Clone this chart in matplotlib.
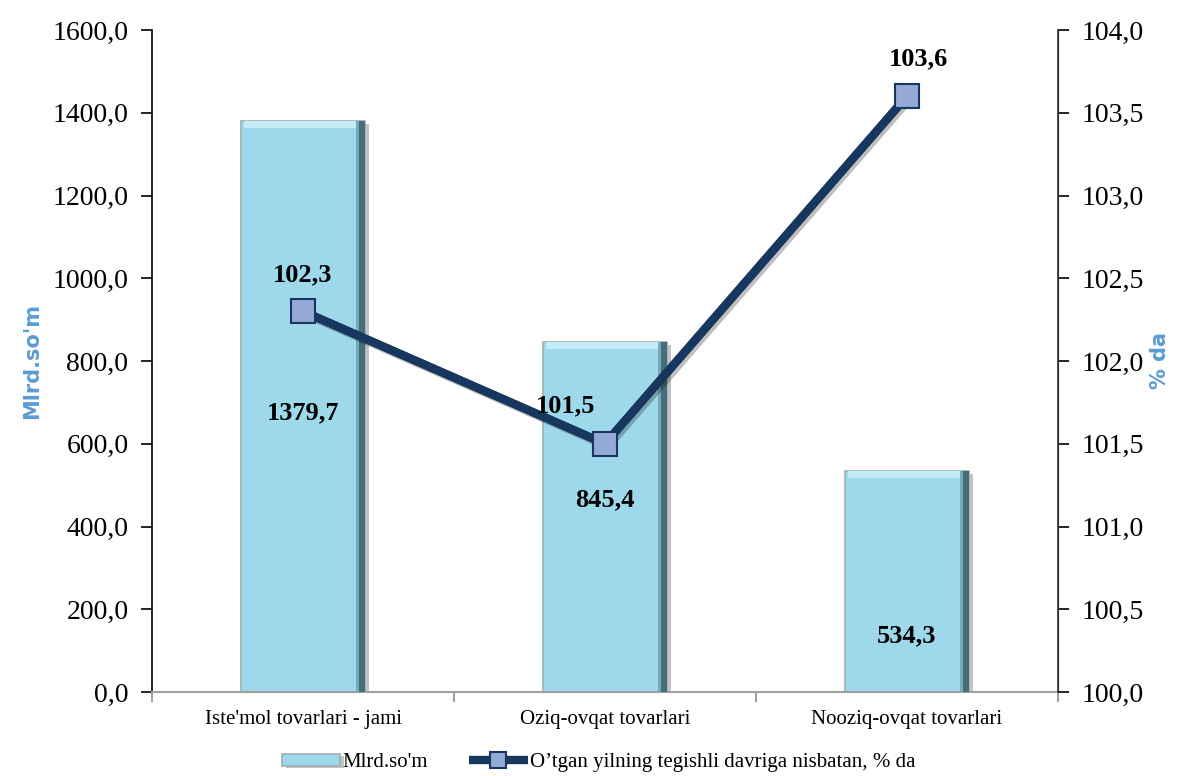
import numpy as np
import matplotlib.pyplot as plt
import matplotlib.patheffects as pe
from matplotlib.ticker import FixedLocator, FuncFormatter

plt.rcParams['font.family'] = ['Liberation Serif', 'DejaVu Serif']

# data
categories = ["Iste'mol tovarlari - jami", "Oziq-ovqat tovarlari", "Nooziq-ovqat tovarlari"]
volume = [1379.7, 845.4, 534.3]          # Mlrd.so'm
growth = [102.3, 101.5, 103.6]           # % da
vol_label_y = [675, 465, 135]            # where the bar value labels sit

bar_col = '#9ED9EB'
line_col = '#17375E'
mark_col = '#95A9D6'
lab_col = '#5B9BD5'

fig = plt.figure(figsize=(11.85, 7.76), dpi=100)
ax = fig.add_axes([0.1283, 0.1082, 0.7645, 0.8531])
ax2 = ax.twinx()

x = np.arange(len(categories))
w = 0.41

shadow = [pe.SimplePatchShadow(offset=(3, -2), shadow_rgbFace='#555555', alpha=0.35), pe.Normal()]
bars = ax.bar(x, volume, width=w, color=bar_col, edgecolor='#9DB0B5', linewidth=1.2,
              zorder=2, path_effects=shadow, label="Mlrd.so'm")
# bevel: darker right side, lighter top
vol = np.array(volume)
ax.bar(x + w / 2 - 0.02, vol, width=0.02, color='#77A9B6', linewidth=0, zorder=3)
ax.bar(x + w / 2 - 0.009, vol, width=0.018, color='#466E78', linewidth=0, zorder=3)
ax.bar(x - 0.01, np.full(len(x), 16), bottom=vol - 16, width=w - 0.04, color='#C4ECF7',
       linewidth=0, zorder=3)

for xi, v, ly in zip(x, volume, vol_label_y):
    ax.text(xi, ly, f"{v:.1f}".replace('.', ','), ha='center', va='center',
            fontsize=19, fontweight='bold', zorder=6)

ax.set_ylim(0, 1600)
ax.set_xlim(-0.5, 2.5)
ax.set_yticks(np.arange(0, 1601, 200))
ax.yaxis.set_major_formatter(FuncFormatter(lambda v, p: f"{v:.1f}".replace('.', ',')))
ax.tick_params(axis='y', labelsize=20, length=8, direction='out', width=1.2, pad=9)

ax.set_xticks(x)
ax.set_xticklabels(categories, fontsize=15)
ax.xaxis.set_minor_locator(FixedLocator([-0.5, 0.5, 1.5, 2.5]))
ax.tick_params(axis='x', which='major', length=0, pad=13)
ax.tick_params(axis='x', which='minor', length=7, color='#A0A0A0', width=1.5)

ax.spines['top'].set_visible(False)
ax.spines['bottom'].set_color('#A0A0A0')
ax.spines['bottom'].set_linewidth(1.5)
ax.spines['left'].set_linewidth(1.2)

ax2.plot(x, growth, color=line_col, linewidth=6, solid_capstyle='butt', zorder=4,
         path_effects=[pe.SimpleLineShadow(offset=(2, -2), alpha=0.25), pe.Normal()])
ax2.plot(x, growth, color=line_col, linewidth=6, marker='s', markersize=17,
         markerfacecolor=mark_col, markeredgecolor=line_col, markeredgewidth=1.5,
         solid_capstyle='butt', zorder=5,
         label="O\u2019tgan yilning tegishli davriga nisbatan, % da")
ax2.set_ylim(100, 104)
ax2.set_yticks(np.arange(100, 104.01, 0.5))
ax2.yaxis.set_major_formatter(FuncFormatter(lambda v, p: f"{v:.1f}".replace('.', ',')))
ax2.tick_params(axis='y', labelsize=20, length=8, direction='out', width=1.2, pad=9)
ax2.spines['top'].set_visible(False)
ax2.spines['bottom'].set_visible(False)
ax2.spines['left'].set_visible(False)
ax2.spines['right'].set_linewidth(1.2)
ax2.spines['right'].set_color('#333333')

offsets = [(0, 26), (-28, 27), (8, 27)]
for xi, g, off in zip(x, growth, offsets):
    ax2.annotate(f"{g:.1f}".replace('.', ','), (xi, g), xytext=off, textcoords='offset points',
                 ha='center', va='center', fontsize=19, fontweight='bold', zorder=7)

ax.set_zorder(1)
ax2.set_zorder(2)
ax2.patch.set_visible(False)

fig.text(0.027, 0.535, "Mlrd.so'm", rotation=90, ha='center', va='center', color=lab_col,
         fontsize=15, fontweight='bold', family='DejaVu Sans')
fig.text(0.979, 0.535, "% da", rotation=90, ha='center', va='center', color=lab_col,
         fontsize=15, fontweight='bold', family='DejaVu Sans')

h1, l1 = ax.get_legend_handles_labels()
h2, l2 = ax2.get_legend_handles_labels()
fig.legend(h1 + h2, l1 + l2, loc='lower center', bbox_to_anchor=(0.505, -0.019), ncol=2,
           frameon=False, fontsize=15, handlelength=2.8, handleheight=0.5, handletextpad=0.1,
           columnspacing=2.0, markerscale=0.65)

fig.savefig('out.png', dpi=100)
